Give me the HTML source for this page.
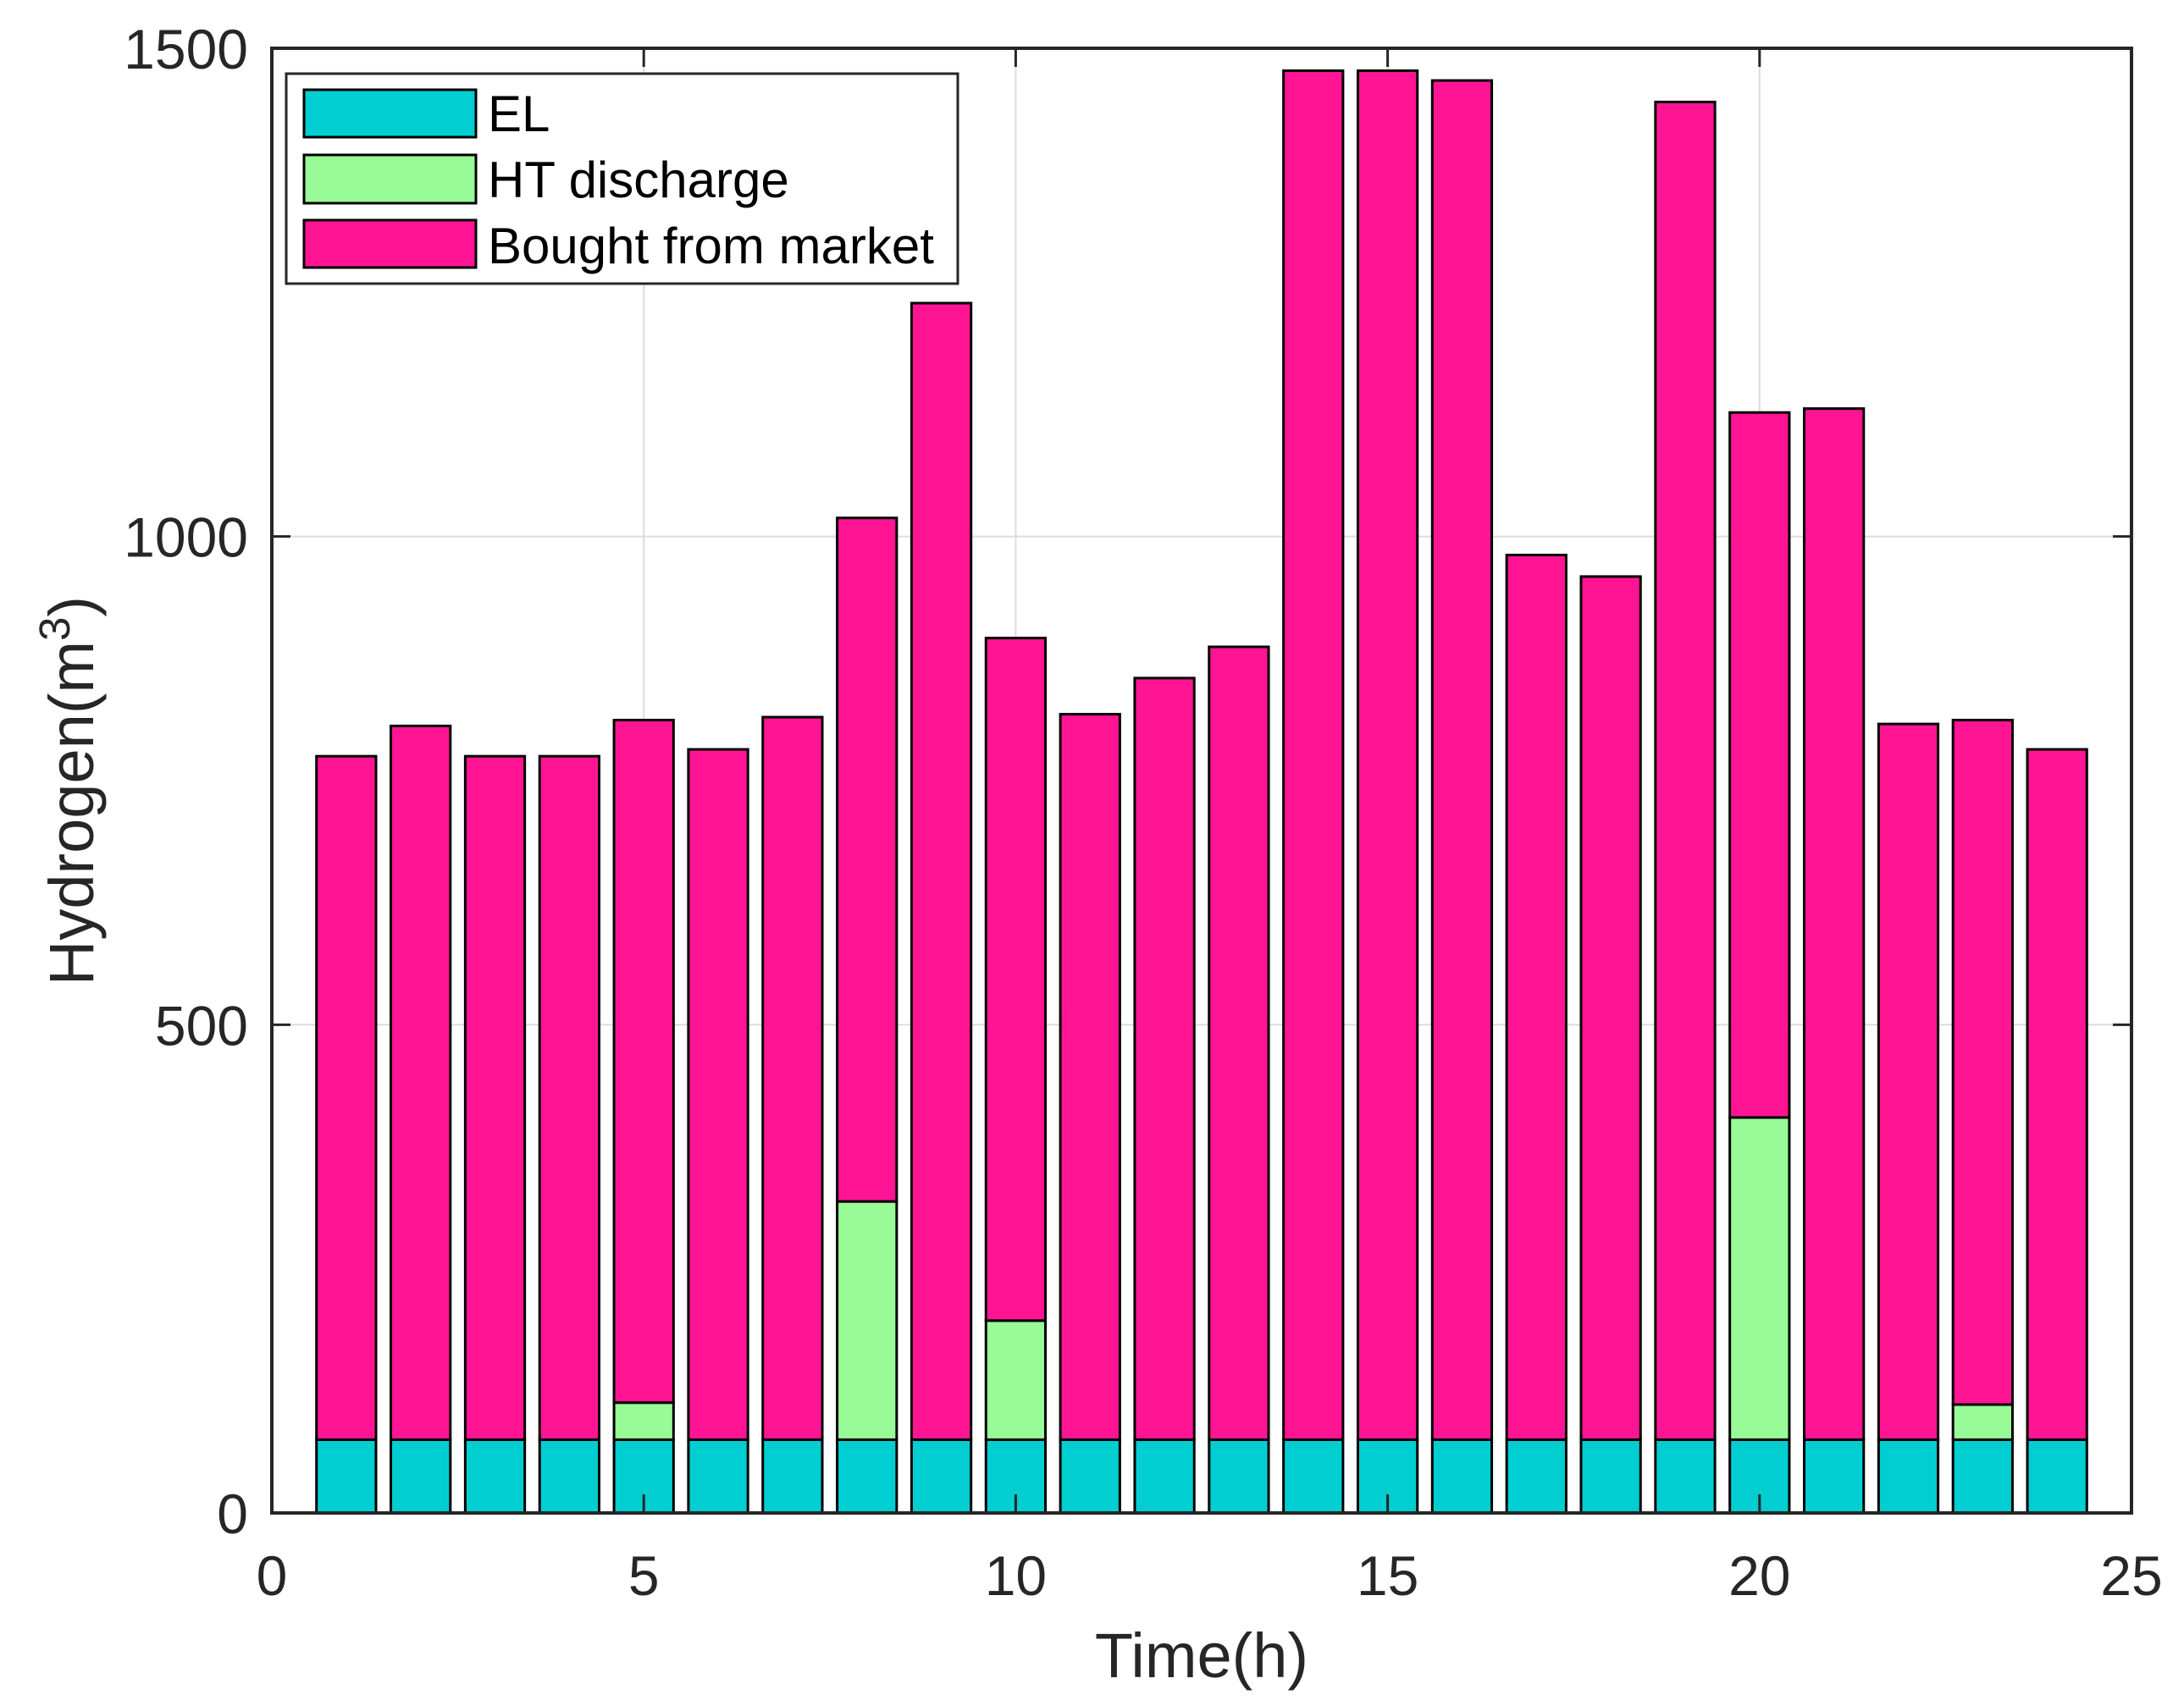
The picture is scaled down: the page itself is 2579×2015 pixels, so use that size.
<!DOCTYPE html>
<html><head><meta charset="utf-8">
<style>
html,body{margin:0;padding:0;background:#fff;}
svg{display:block;font-family:"Liberation Sans",Arial,sans-serif;}
</style></head>
<body>
<svg id="chart" width="2579" height="2015" viewBox="0 0 2579 2015" xmlns="http://www.w3.org/2000/svg">
<rect width="2579" height="2015" fill="#fff"/>
<g id="grid"></g>
<g id="bars"></g>
<g id="axes"></g>
<text x="1419" y="1981" font-size="74" text-anchor="middle" fill="#262626">Time(h)</text>
<text transform="translate(110,934) rotate(-90)" font-size="74" text-anchor="middle" fill="#262626">Hydrogen(m<tspan baseline-shift="super" font-size="51">3</tspan>)</text>
<g>
<rect x="338" y="87" width="793" height="248" fill="#fff" stroke="#262626" stroke-width="3"/>
<g>
<rect x="359" y="106" width="203" height="56" fill="#00CED1" stroke="#000" stroke-width="3"/>
<text x="576" y="155" font-size="60" fill="#000">EL</text></g>
<g>
<rect x="359" y="183" width="203" height="57" fill="#98FB98" stroke="#000" stroke-width="3"/>
<text x="576" y="233" font-size="60" fill="#000">HT discharge</text></g>
<g>
<rect x="359" y="260" width="203" height="56" fill="#FF1493" stroke="#000" stroke-width="3"/>
<text x="576" y="311" font-size="60" fill="#000">Bought from market</text></g>
</g>
</svg>
<script>
const hours = [1,2,3,4,5,6,7,8,9,10,11,12,13,14,15,16,17,18,19,20,21,22,23,24];
const elValues = [75,75,75,75,75,75,75,75,75,75,75,75,75,75,75,75,75,75,75,75,75,75,75,75];
const htValues = [0,0,0,0,38,0,0,244,0,122,0,0,0,0,0,0,0,0,0,330,0,0,36,0];
const totalValues = [775,806,775,775,812,782,815,1019,1239,896,818,855,887,1477,1477,1467,981,959,1445,1127,1131,808,812,782];
const xTicks = [0,5,10,15,20,25];
const yTicks = [0,500,1000,1500];

const L=321,R=2517,T=57,B=1787;
const NS="http://www.w3.org/2000/svg";
function xs(v){return L+(v-0)/25*(R-L);}
function ys(v){return B-(v-0)/1500*(B-T);}
function mk(tag,attrs,parent){const e=document.createElementNS(NS,tag);for(const k in attrs)e.setAttribute(k,attrs[k]);parent.appendChild(e);return e;}
const grid=document.getElementById('grid'),bars=document.getElementById('bars'),axes=document.getElementById('axes');
xTicks.forEach(t=>{if(t>0&&t<25){const g=mk('line',{x1:xs(t),x2:xs(t),y1:T,y2:B,stroke:'#dcdcdc','stroke-width':2},grid);

}});
yTicks.forEach(t=>{if(t>0&&t<1500){const g=mk('line',{x1:L,x2:R,y1:ys(t),y2:ys(t),stroke:'#dcdcdc','stroke-width':2},grid);

}});
const bw=0.8*(xs(1)-xs(0));
hours.forEach((h,i)=>{
  const el=elValues[i],ht=htValues[i],mk2=totalValues[i]-el-ht;
  const segs=[[0,el,'#00CED1','bar-el-'+h],[el,el+ht,'#98FB98','bar-ht-'+h],[el+ht,el+ht+mk2,'#FF1493','bar-market-'+h]];
  segs.forEach(s=>{
    if(s[1]-s[0]<=0)return;
    const r=mk('rect',{x:xs(h)-bw/2,y:ys(s[1]),width:bw,height:ys(s[0])-ys(s[1]),fill:s[2],stroke:'#000','stroke-width':3},bars);
    
    
  });
});
mk('rect',{x:L,y:T,width:R-L,height:B-T,fill:'none',stroke:'#262626','stroke-width':4},axes);
xTicks.forEach(t=>{
  mk('line',{x1:xs(t),x2:xs(t),y1:B,y2:B-22,stroke:'#262626','stroke-width':3},axes);
  mk('line',{x1:xs(t),x2:xs(t),y1:T,y2:T+22,stroke:'#262626','stroke-width':3},axes);
  const tx=mk('text',{x:xs(t),y:1884,'font-size':66,'text-anchor':'middle',fill:'#262626'},axes);
  tx.textContent=t;
  
  
});
yTicks.forEach(t=>{
  mk('line',{x1:L,x2:L+22,y1:ys(t),y2:ys(t),stroke:'#262626','stroke-width':3},axes);
  mk('line',{x1:R,x2:R-22,y1:ys(t),y2:ys(t),stroke:'#262626','stroke-width':3},axes);
  const tx=mk('text',{x:293,y:ys(t)+24,'font-size':66,'text-anchor':'end',fill:'#262626'},axes);
  tx.textContent=t;
  
  
});
</script>
</body></html>
